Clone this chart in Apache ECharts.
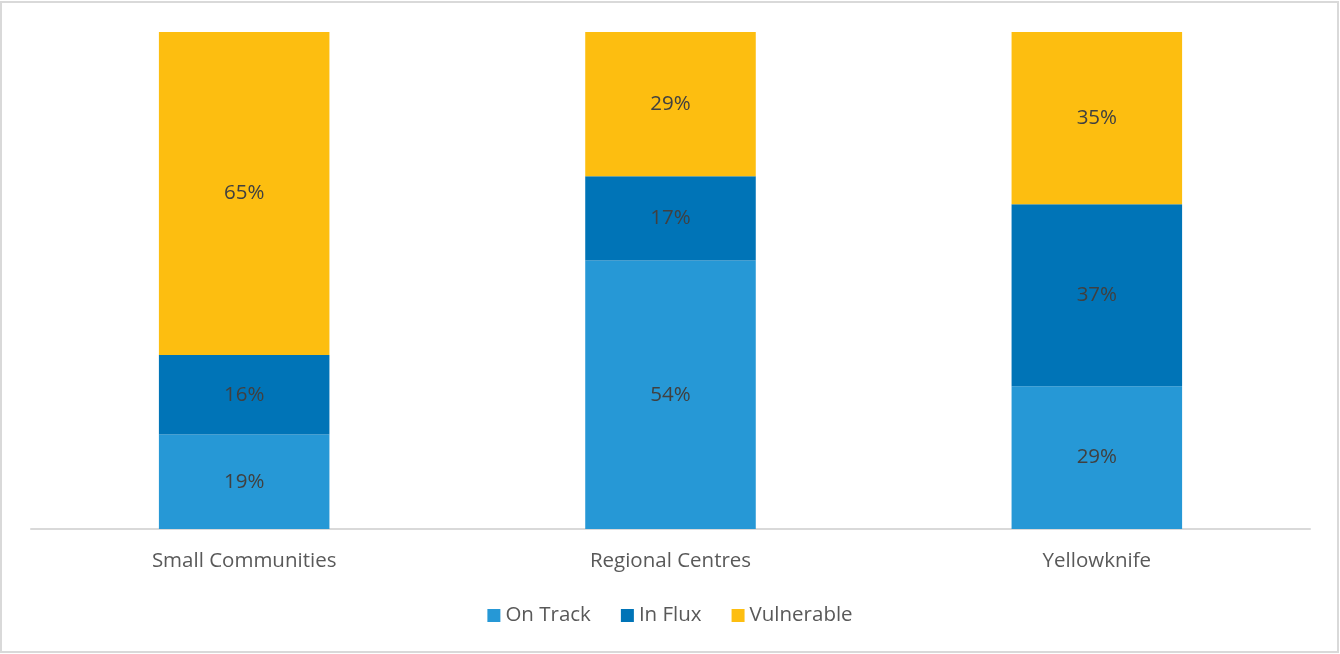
<!DOCTYPE html>
<html><head><meta charset="utf-8">
<script src="https://cdn.jsdelivr.net/npm/echarts@6/dist/echarts.min.js"></script>
<style>html,body{margin:0;padding:0;background:#fff}#c{width:1340px;height:654px}</style>
</head><body><div id="c"></div>
<script>
const categories = ['Small Communities', 'Regional Centres', 'Yellowknife'];
const onTrack = [19, 54, 29];
const inFlux = [16, 17, 37];
const vulnerable = [65, 29, 35];
const seriesNames = ['On Track', 'In Flux', 'Vulnerable'];
const colors = ['#2698D6', '#0074B7', '#FDBE10'];

const raw = [onTrack, inFlux, vulnerable];
const totals = categories.map((_, i) => raw.reduce((s, arr) => s + arr[i], 0));

const chart = echarts.init(document.getElementById('c'), null, {renderer: 'canvas'});
chart.setOption({
  animation: false,
  textStyle: {fontFamily: 'Open Sans'},
  graphic: [{type: 'rect', shape: {x: 1, y: 2, width: 1337, height: 650}, style: {fill: 'none', stroke: '#D9D9D9', lineWidth: 2}, silent: true}],
  grid: {left: 31, right: 30, top: 32, bottom: 125, containLabel: false},
  legend: {
    bottom: 23, left: 'center', itemWidth: 13, itemHeight: 13, itemGap: 30, icon: 'rect',
    textStyle: {fontSize: 20.5, color: '#595959', fontFamily: 'Open Sans'},
    data: seriesNames
  },
  xAxis: {
    type: 'category', data: categories,
    axisLine: {lineStyle: {color: '#D9D9D9', width: 2}},
    axisTick: {show: false},
    axisLabel: {fontSize: 20.5, color: '#595959', margin: 22, fontFamily: 'Open Sans'}
  },
  yAxis: {type: 'value', min: 0, max: 100, show: false, splitLine: {show: false}},
  series: raw.map((arr, k) => ({
    name: seriesNames[k], type: 'bar', stack: 'total', barCategoryGap: '60%',
    itemStyle: {color: colors[k]},
    data: arr.map((v, i) => ({value: v / totals[i] * 100, raw: v})),
    label: {
      show: true, position: 'inside', fontSize: 20.5, color: '#404040', fontFamily: 'Open Sans',
      formatter: p => p.data.raw + '%'
    }
  }))
});
</script></body></html>
